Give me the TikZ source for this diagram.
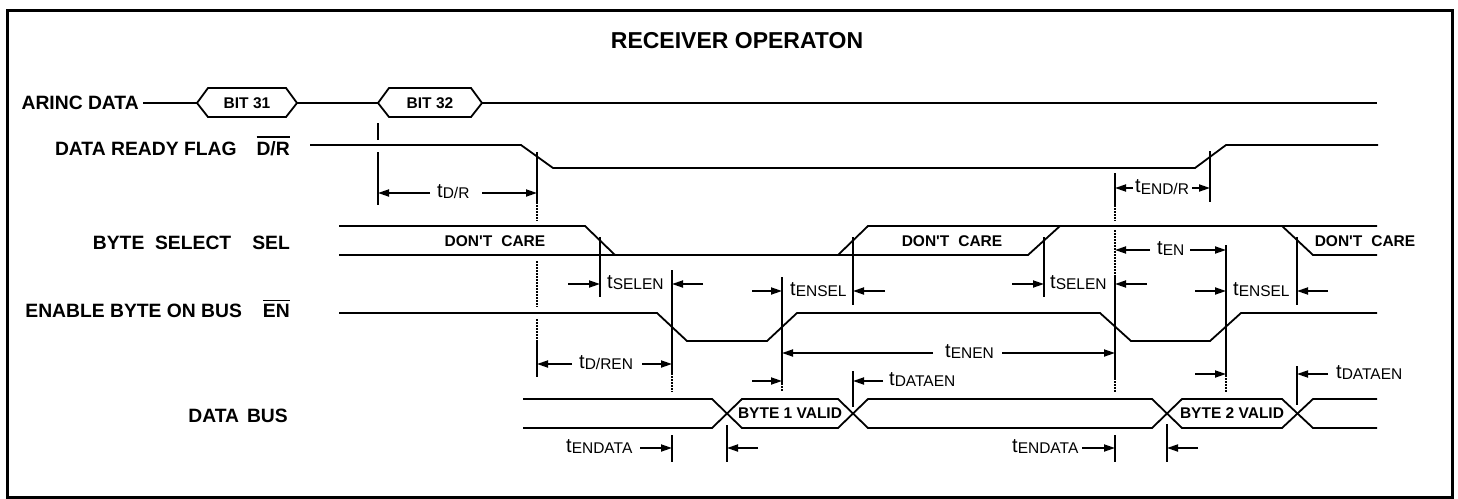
\documentclass[tikz,border=0pt]{standalone}
\usepackage{fontspec}
\newfontfamily\lsans{Liberation Sans}
\usetikzlibrary{arrows.meta}
\newcommand{\tlab}[1]{{\lsans\fontsize{20}{22}\selectfont t}\raisebox{-1.5pt}{\lsans\fontsize{15.5}{17}\selectfont #1}}
\newcommand{\ovl}[1]{\vbox{\hrule height 1.6pt\kern 3pt\hbox{#1}}}
\begin{document}
\begin{tikzpicture}[x=1pt,y=-1pt,
  sig/.style={line width=1.8pt, line join=miter},
  mk/.style={line width=1.8pt},
  dots/.style={line width=1.5pt, dash pattern=on 1.5pt off 1.5pt},
  arr/.style={line width=1.8pt,-{Triangle[length=11pt,width=7pt]}},
  lbl/.style={font=\lsans\fontsize{19.3}{21}\selectfont\bfseries, inner sep=0pt, anchor=base east},
  sm/.style={font=\lsans\fontsize{15.5}{17}\selectfont\bfseries, inner sep=0pt, anchor=base},
  tl/.style={inner sep=0pt, anchor=base west}]
\useasboundingbox (0,0) rectangle (1458,498);
\draw[line width=3pt] (7,10) rectangle (1452,497);
\node[font=\lsans\fontsize{23}{25}\selectfont\bfseries, inner sep=0pt, anchor=base] (title) at (737,48) {RECEIVER OPERATON};

% ---- ARINC DATA
\node[lbl] (arinc) at (139,109.5) {ARINC DATA};
\draw[sig] (143,103) -- (197,103);
\draw[sig] (197,103) -- (208,88) -- (286,88) -- (297,103) -- (286,117) -- (208,117) -- cycle;
\draw[sig] (297,103) -- (378,103);
\draw[sig] (378,103) -- (389,88) -- (471,88) -- (482,103) -- (471,117) -- (389,117) -- cycle;
\draw[sig] (482,103) -- (1377,103);
\node[sm] (b31) at (247,108) {BIT 31};
\node[sm] (b32) at (430,108) {BIT 32};

% ---- DATA READY FLAG
\node[lbl] (drf) at (290,155) {DATA READY FLAG\hspace{20pt}\ovl{D/R}};
\draw[sig] (310,145) -- (521,145) -- (553,168) -- (1195,168) -- (1226,145) -- (1378,145);
\draw[mk] (378,123) -- (378,140);
\draw[mk] (378,152) -- (378,205);
\draw[mk] (537,152) -- (537,202);
\draw[dots] (537,202) -- (537,221);
\draw[dots] (537,261) -- (537,307);
\draw[dots] (537,319) -- (537,340);
\draw[mk] (537,340) -- (537,377);
\draw[mk] (1210,151) -- (1210,202);
\draw[mk] (1115,173) -- (1115,205);
\draw[dots] (1115,205) -- (1115,221);
\draw[dots] (1115,230) -- (1115,277);
\draw[mk] (1115,277) -- (1115,378);
\draw[dots] (1115,378) -- (1115,392);

\draw[arr] (430,193) -- (378,193);
\draw[arr] (482,193) -- (537,193);
\node[tl] (tdr) at (437,197) {\tlab{D/R}};
\draw[arr] (1133,188) -- (1115,188);
\draw[arr] (1192,188) -- (1210,188);
\node[tl] (tendr) at (1135,192.5) {\tlab{END/R}};

% ---- BYTE SELECT
\node[lbl] (sel) at (290,249.5) {BYTE\ \ SELECT\hspace{21pt}SEL};
\draw[sig] (339,226) -- (585,226) -- (615,255);
\draw[sig] (339,255) -- (1028,255) -- (1060,226);
\draw[sig] (838,255) -- (868,226) -- (1377,226);
\draw[sig] (1282,226) -- (1313,255) -- (1377,255);
\node[sm] (dc1) at (495,246) {DON'T\hspace{9pt}CARE};
\node[sm] (dc2) at (952,246) {DON'T\hspace{9pt}CARE};
\node[sm] (dc3) at (1365,246) {DON'T\hspace{9pt}CARE};

% t_EN
\draw[arr] (1150,250) -- (1115,250);
\draw[arr] (1190,250) -- (1226,250);
\node[tl] (ten) at (1157,254) {\tlab{EN}};
\draw[mk] (1226,245) -- (1226,375);
\draw[dots] (1226,375) -- (1226,392);

% t_SELEN 1
\draw[mk] (600,237) -- (600,297);
\draw[arr] (568,284) -- (600,284);
\draw[mk] (672,270) -- (672,373);
\draw[dots] (672,373) -- (672,392);
\draw[arr] (703,284) -- (672,284);
\node[tl] (tselen1) at (607,288) {\tlab{SELEN}};

% t_ENSEL 1
\draw[mk] (782,277) -- (782,383);
\draw[dots] (782,383) -- (782,392);
\draw[arr] (752,291) -- (782,291);
\draw[mk] (853,237) -- (853,305);
\draw[arr] (885,291) -- (853,291);
\node[tl] (tensel1) at (790,295) {\tlab{ENSEL}};

% t_SELEN 2
\draw[mk] (1044,237) -- (1044,297);
\draw[arr] (1012,284) -- (1044,284);
\draw[arr] (1147,284) -- (1115,284);
\node[tl] (tselen2) at (1050,288) {\tlab{SELEN}};

% t_ENSEL 2
\draw[arr] (1195,291) -- (1226,291);
\draw[mk] (1297,237) -- (1297,305);
\draw[arr] (1328,291) -- (1297,291);
\node[tl] (tensel2) at (1233,295) {\tlab{ENSEL}};

% ---- ENABLE BYTE ON BUS
\node[lbl] (en) at (290,317.5) {ENABLE BYTE ON BUS\hspace{21pt}\ovl{EN}};
\draw[sig] (339,313) -- (657,313) -- (687,341) -- (767,341) -- (797,313) -- (1100,313) -- (1131,341) -- (1210,341) -- (1241,313) -- (1377,313);

\draw[arr] (572,364) -- (537,364);
\draw[arr] (642,364) -- (672,364);
\node[tl] (tdren) at (579,368) {\tlab{D/REN}};
\draw[arr] (933,353) -- (782,353);
\draw[arr] (1002,353) -- (1115,353);
\node[tl] (tenen) at (945,357) {\tlab{ENEN}};

% t_DATAEN
\draw[arr] (752,381) -- (782,381);
\draw[mk] (853,371) -- (853,407);
\draw[arr] (883,381) -- (853,381);
\node[tl] (tdataen1) at (889,385) {\tlab{DATAEN}};
\draw[arr] (1195,374) -- (1226,374);
\draw[mk] (1297,366) -- (1297,405);
\draw[arr] (1328,374) -- (1297,374);
\node[tl] (tdataen2) at (1336,378) {\tlab{DATAEN}};

% ---- DATA BUS
\node[lbl] (db) at (288,422) {DATA\hspace{8pt}BUS};
\draw[sig] (523,399) -- (712,399) -- (742,428) -- (838,428) -- (868,399) -- (1152,399) -- (1182,428) -- (1282,428) -- (1313,399) -- (1377,399);
\draw[sig] (523,428) -- (712,428) -- (742,399) -- (838,399) -- (868,428) -- (1152,428) -- (1182,399) -- (1282,399) -- (1313,428) -- (1377,428);
\node[sm] (bv1) at (790,418.5) {BYTE 1 VALID};
\node[sm] (bv2) at (1232,418.5) {BYTE 2 VALID};

% t_ENDATA
\node[tl] (tendata1) at (566,452) {\tlab{ENDATA}};
\draw[arr] (640,448) -- (672,448);
\draw[mk] (672,435) -- (672,462);
\draw[mk] (727,425) -- (727,462);
\draw[arr] (758,448) -- (727,448);
\node[tl] (tendata2) at (1012,452) {\tlab{ENDATA}};
\draw[arr] (1082,448) -- (1115,448);
\draw[mk] (1115,435) -- (1115,462);
\draw[mk] (1167,424) -- (1167,462);
\draw[arr] (1198,448) -- (1167,448);
\end{tikzpicture}
\end{document}
